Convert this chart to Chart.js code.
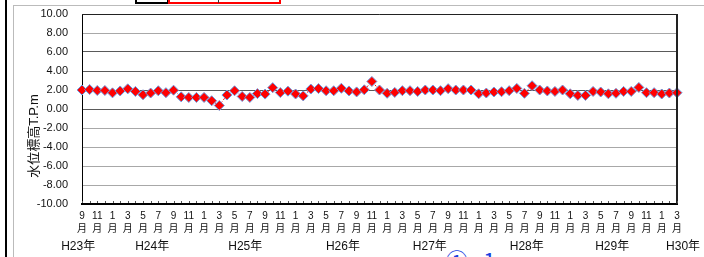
<!DOCTYPE html>
<html>
<head>
<meta charset="utf-8">
<script src="https://cdn.jsdelivr.net/npm/chart.js@4/dist/chart.umd.min.js"></script>
<style>
  body { margin: 0; background: #fff; width: 704px; height: 257px; overflow: hidden; position: relative; }
  .deco { position: absolute; box-sizing: border-box; }
  canvas { position: absolute; left: 0; top: 0; }
</style>
</head>
<body>
<div class="deco" style="left:5px;top:0;width:2px;height:257px;background:#000"></div>
<div class="deco" style="left:13px;top:5px;width:1px;height:252px;background:#bbb"></div>
<div class="deco" style="left:13px;top:5px;width:691px;height:1px;background:#bbb"></div>
<div class="deco" style="left:135px;top:-4px;width:34px;height:8px;border:2px solid #000"></div>
<div class="deco" style="left:168px;top:-4px;width:113px;height:8px;border:2px solid #f00"></div>
<div class="deco" style="left:218px;top:0;width:1px;height:3px;background:#333"></div>
<div class="deco" style="left:434px;top:243px;color:#1a3fe0;font:22px 'Noto Sans CJK JP',sans-serif;letter-spacing:4px">-①-1</div>
<canvas id="graficoNivel" width="704" height="257"></canvas>
<script>
const meses = [9, 10, 11, 12,
  1, 2, 3, 4, 5, 6, 7, 8, 9, 10, 11, 12,
  1, 2, 3, 4, 5, 6, 7, 8, 9, 10, 11, 12,
  1, 2, 3, 4, 5, 6, 7, 8, 9, 10, 11, 12,
  1, 2, 3, 4, 5, 6, 7, 8, 9, 10, 11, 12,
  1, 2, 3, 4, 5, 6, 7, 8, 9, 10, 11, 12,
  1, 2, 3, 4, 5, 6, 7, 8, 9, 10, 11, 12,
  1, 2, 3];
const nivelAgua = [
  2.00, 2.05, 1.95, 1.95, 1.70, 1.90, 2.12, 1.85, 1.50, 1.68, 1.92, 1.72, 1.98,
  1.28, 1.22, 1.22, 1.22, 0.87, 0.37, 1.47, 1.92, 1.32, 1.22, 1.62, 1.57, 2.25,
  1.73, 1.88, 1.58, 1.38, 2.10, 2.15, 1.92, 1.92, 2.18, 1.90, 1.80, 2.02, 2.90,
  2.00, 1.65, 1.75, 1.93, 1.93, 1.85, 2.00, 2.00, 1.93, 2.14, 2.00, 2.00, 2.00,
  1.60, 1.68, 1.79, 1.82, 1.93, 2.17, 1.65, 2.45, 2.00, 1.90, 1.85, 2.00, 1.60,
  1.43, 1.43, 1.85, 1.79, 1.60, 1.65, 1.85, 1.85, 2.27, 1.72, 1.72, 1.58, 1.68,
  1.72
];
const anios = ['H23年', 'H24年', 'H25年', 'H26年', 'H27年', 'H28年', 'H29年', 'H30年'];
const anclaAnios = [-0.5, 9.2, 21.4, 34.2, 45.6, 58.3, 69.5, 78.8];

const fuente = "'Liberation Sans', 'Noto Sans CJK JP', sans-serif";

// frame, inside month ticks, year row and rotated axis title
const extras = {
  id: 'extras',
  afterDraw(chart) {
    const { ctx, chartArea: a, scales: { x } } = chart;
    ctx.save();
    ctx.strokeStyle = '#222';
    ctx.lineWidth = 1;
    ctx.beginPath();
    ctx.moveTo(a.left, a.top + 0.5);
    ctx.lineTo(a.right, a.top + 0.5);
    ctx.stroke();
    ctx.lineWidth = 2;
    ctx.beginPath();
    ctx.moveTo(a.right, a.top);
    ctx.lineTo(a.right, a.bottom);
    ctx.stroke();
    ctx.lineWidth = 1;
    ctx.strokeStyle = '#555';
    meses.forEach((m, i) => {
      const px = Math.round(x.getPixelForValue(i)) + 0.5;
      ctx.beginPath();
      ctx.moveTo(px, a.bottom - 1);
      ctx.lineTo(px, a.bottom - 3);
      ctx.stroke();
    });
    ctx.fillStyle = '#111';
    ctx.font = '12px ' + fuente;
    ctx.textAlign = 'center';
    ctx.textBaseline = 'middle';
    anios.forEach((t, i) => ctx.fillText(t, x.getPixelForValue(anclaAnios[i]), 247));
    ctx.font = '13px ' + fuente;
    ctx.translate(34, 136);
    ctx.rotate(-Math.PI / 2);
    ctx.fillText('水位標高T.P.m', 0, 0);
    ctx.restore();
  }
};

const ctx = document.getElementById('graficoNivel').getContext('2d');
new Chart(ctx, {
  type: 'line',
  data: {
    labels: meses.map(m => m + '月'),
    datasets: [{
      data: nivelAgua,
      borderColor: '#ff0000',
      borderWidth: 1,
      borderDash: [2, 2],
      pointStyle: 'rectRot',
      pointRadius: 5,
      pointBackgroundColor: '#ff0000',
      pointBorderColor: '#6b9be0',
      pointBorderWidth: 1,
      clip: false
    }]
  },
  options: {
    responsive: false,
    animation: false,
    layout: { padding: { left: 20, top: 14, right: 27, bottom: 0 } },
    plugins: { legend: { display: false }, tooltip: { enabled: false } },
    scales: {
      x: {
        offset: false,
        afterFit: s => { s.height = 53; },
        grid: { drawOnChartArea: false, drawTicks: false },
        border: { display: true, color: '#000', width: 2 },
        ticks: {
          autoSkip: false,
          maxRotation: 0,
          padding: 5,
          color: '#111',
          font: { size: 10, family: fuente, lineHeight: 1.35 },
          callback: (v, i) => i % 2 === 0 ? [String(meses[i]), '月'] : ''
        }
      },
      y: {
        min: -10,
        max: 10,
        afterFit: s => { s.width = 62; },
        grid: {
          tickLength: 12,
          tickColor: 'rgba(0,0,0,0)',
          color: c => (c.tick && c.tick.value >= 0 && c.tick.value <= 6) ? '#5a5a5a' : '#a8a8a8'
        },
        border: { display: true, color: '#000', width: 1 },
        ticks: {
          stepSize: 2,
          padding: 2,
          color: '#111',
          font: { size: 11, family: fuente },
          callback: v => v.toFixed(2)
        }
      }
    }
  },
  plugins: [extras]
});
</script>
</body>
</html>
